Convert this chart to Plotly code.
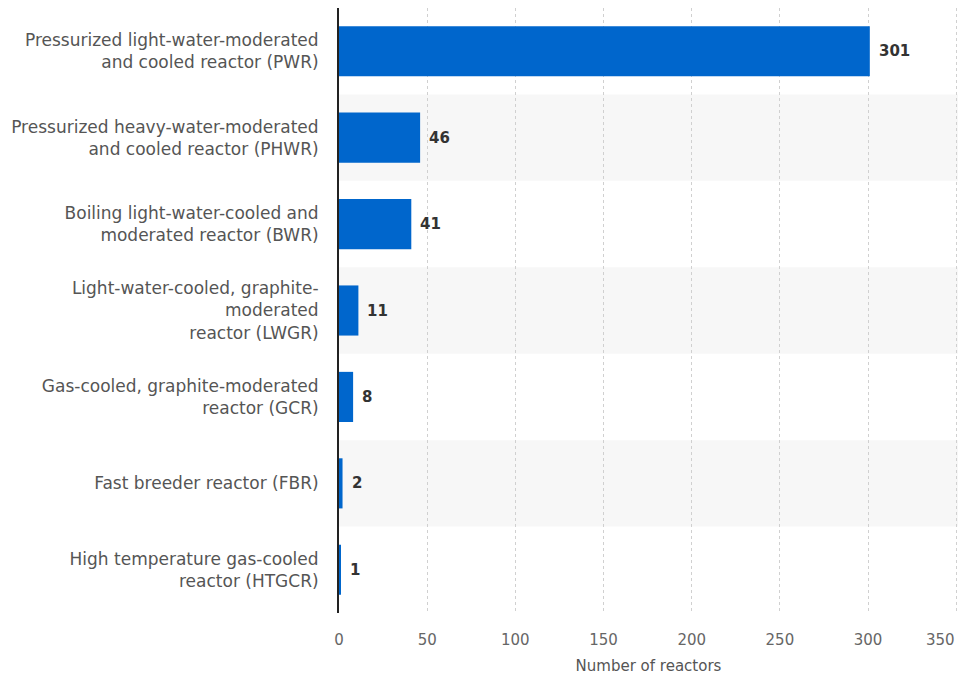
import plotly.graph_objects as go

categories = [
    "Pressurized light-water-moderated<br>and cooled reactor (PWR)",
    "Pressurized heavy-water-moderated<br>and cooled reactor (PHWR)",
    "Boiling light-water-cooled and<br>moderated reactor (BWR)",
    "Light-water-cooled, graphite-<br>moderated<br>reactor (LWGR)",
    "Gas-cooled, graphite-moderated<br>reactor (GCR)",
    "Fast breeder reactor (FBR)",
    "High temperature gas-cooled<br>reactor (HTGCR)",
]
values = [301, 46, 41, 11, 8, 2, 1]
x_ticks = [0, 50, 100, 150, 200, 250, 300, 350]
x_tick_labels = ["0", "50", "100", "150", "200", "250", "300", ""]
last_tick_label = "350"

FONT = "DejaVu Sans"

fig = go.Figure()
fig.add_trace(go.Bar(
    y=categories, x=values, orientation="h",
    marker=dict(color="#0066cc", line=dict(width=0)),
    width=0.58, hoverinfo="skip",
))

shapes = []
for i in range(len(categories)):
    if i % 2 == 1:
        shapes.append(dict(type="rect", xref="paper", yref="y",
                           x0=0, x1=1, y0=i - 0.5, y1=i + 0.5,
                           fillcolor="#f7f7f7", line=dict(width=0), layer="below"))

annotations = []
for c, v in zip(categories, values):
    annotations.append(dict(x=v, y=c, xref="x", yref="y", text=f"<b>{v}</b>",
                            showarrow=False, xanchor="left", xshift=7,
                            font=dict(family=FONT, size=15, color="#333333")))
annotations.append(dict(x=350, y=0, xref="x", yref="paper", text=last_tick_label,
                        showarrow=False, xanchor="right", yanchor="top", yshift=-16, xshift=1,
                        font=dict(family=FONT, size=15, color="#666666")))

fig.update_layout(
    width=959, height=680,
    margin=dict(l=339, r=1, t=8, b=67),
    paper_bgcolor="white", plot_bgcolor="rgba(0,0,0,0)",
    showlegend=False,
    shapes=shapes, annotations=annotations,
    font=dict(family=FONT, color="#555555"),
)
fig.update_xaxes(
    range=[0, 351], tickvals=x_ticks, ticktext=x_tick_labels, showgrid=True, gridcolor="#d0d0d0",
    griddash="dot", gridwidth=1, zeroline=False, automargin=False,
    tickfont=dict(size=15, color="#666666"),
    title=dict(text="Number of reactors", font=dict(size=15, color="#555555"), standoff=12),
    ticks="outside", ticklen=13, tickcolor="rgba(0,0,0,0)",
)
fig.update_yaxes(
    autorange="reversed", showline=True, linecolor="#222222", linewidth=2,
    showgrid=False, tickfont=dict(size=17, color="#555555"), automargin=False,
    ticks="outside", ticklen=15, tickcolor="rgba(0,0,0,0)",
)
fig.write_html("out.html")
